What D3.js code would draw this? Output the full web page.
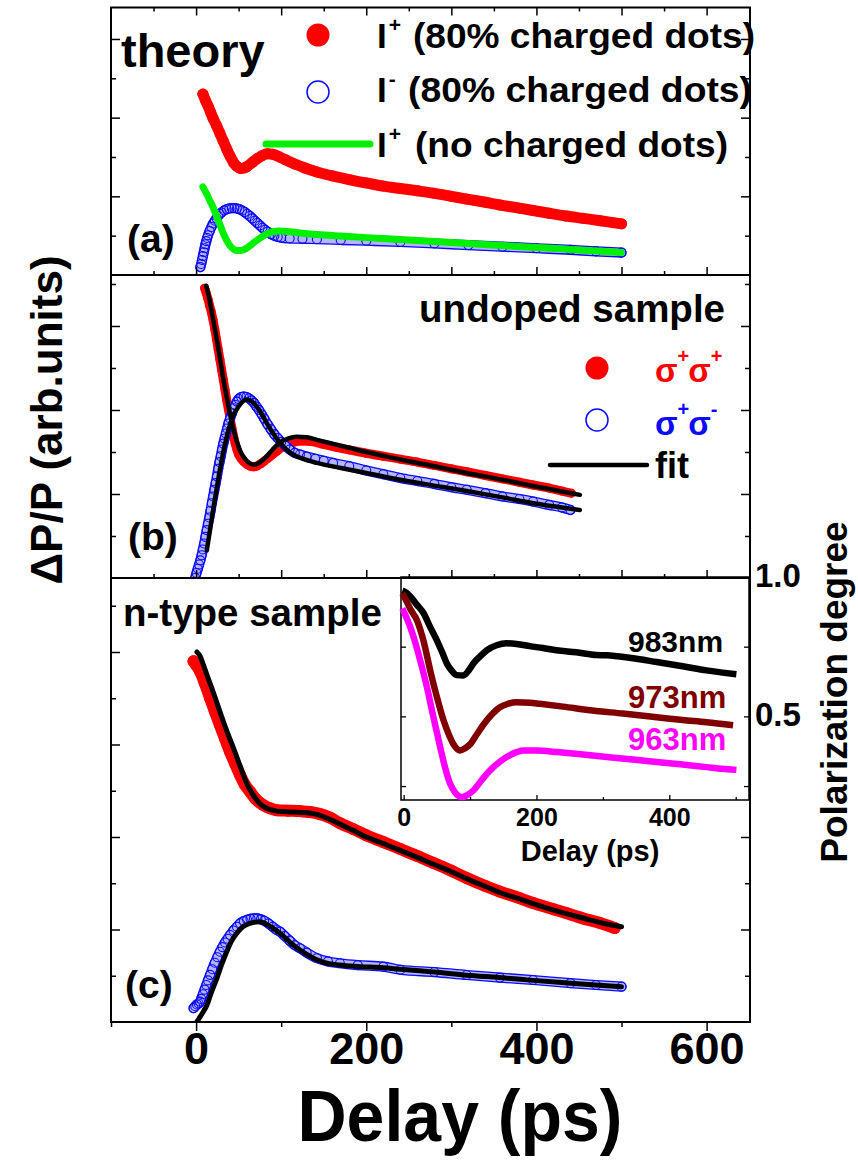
<!DOCTYPE html>
<style type="text/css">
    body { margin: 0; background: #fff; }
    text { font-family: "Liberation Sans", Arial, sans-serif; font-weight: bold; }
</style>
<svg width="858" height="1160"></svg>
<script type="text/javascript" src="https://cdn.jsdelivr.net/npm/d3@7"></script>
<script type="text/javascript">

    // delay axis (ps)
    let delayTicks = [0, 200, 400, 600];
    let delayMinor = [-100, 100, 300, 500];

    // (a) theory, [delay ps, dP/P arb.]
    let theoryPlus80 = [[8,2.30],[11,2.22],[14,2.15],[17,2.07],[20,1.99],[24,1.90],[28,1.80],[32,1.70],[36,1.60],[40,1.51],[44,1.43],[48,1.38],[52,1.355],[56,1.36],[60,1.38],[66,1.43],[72,1.48],[78,1.52],[84,1.54],[90,1.535],[98,1.50],[106,1.46],[116,1.41],[128,1.36],[142,1.31],[160,1.26],[181,1.21],[200,1.17],[220,1.13],[240,1.10],[260,1.07],[279,1.04],[300,1.00],[318,0.965],[340,0.925],[357,0.89],[380,0.85],[396,0.82],[415,0.785],[435,0.75],[455,0.72],[475,0.69],[490,0.665],[500,0.65]];
    let theoryMinus80 = [[5,0.10],[6,0.14],[7,0.19],[8,0.24],[9,0.29],[10,0.34],[11,0.39],[12,0.43],[13,0.47],[14,0.505],[16,0.56],[18,0.61],[20,0.655],[22,0.69],[24,0.72],[26,0.75],[28,0.775],[30,0.795],[33,0.82],[36,0.835],[39,0.845],[42,0.85],[45,0.85],[48,0.845],[51,0.835],[54,0.82],[57,0.80],[60,0.775],[63,0.75],[66,0.72],[69,0.69],[72,0.66],[75,0.63],[78,0.60],[81,0.575],[84,0.55],[88,0.52],[92,0.50],[96,0.485],[100,0.475],[110,0.465],[125,0.46],[142,0.455],[170,0.445],[200,0.435],[240,0.42],[280,0.40],[320,0.38],[360,0.36],[400,0.34],[440,0.32],[470,0.30],[500,0.285]];
    let theoryPlusNone = [[8,1.12],[12,1.04],[16,0.95],[20,0.86],[24,0.75],[28,0.64],[32,0.53],[36,0.44],[40,0.37],[44,0.33],[48,0.31],[52,0.31],[56,0.32],[60,0.345],[66,0.395],[72,0.445],[78,0.49],[84,0.525],[90,0.55],[98,0.56],[110,0.55],[125,0.53],[142,0.515],[170,0.495],[200,0.475],[240,0.45],[280,0.425],[320,0.40],[360,0.375],[400,0.35],[440,0.325],[470,0.305],[500,0.285]];

    // (b) undoped sample
    let undopedPP = [[10,3.45],[12,3.39],[14,3.32],[16,3.24],[18,3.16],[20,3.07],[22,2.96],[24,2.84],[26,2.72],[28,2.60],[30,2.48],[32,2.36],[34,2.24],[36,2.12],[38,2.01],[40,1.90],[42,1.79],[44,1.69],[46,1.60],[48,1.53],[50,1.47],[53,1.42],[56,1.385],[60,1.35],[64,1.33],[68,1.325],[72,1.335],[76,1.36],[80,1.39],[85,1.43],[90,1.47],[95,1.51],[100,1.55],[108,1.59],[116,1.62],[125,1.63],[135,1.625],[150,1.59],[165,1.555],[180,1.525],[200,1.485],[220,1.45],[240,1.415],[260,1.38],[280,1.34],[300,1.30],[318,1.265],[340,1.22],[360,1.18],[380,1.14],[396,1.107],[415,1.07],[430,1.035],[441,1.01]];
    let undopedPM = [[-1,0.0],[0.5,0.06],[2,0.11],[3.5,0.16],[5,0.21],[6.5,0.27],[8,0.34],[9.5,0.41],[11,0.49],[12.5,0.57],[14,0.645],[15.5,0.72],[17,0.80],[18.5,0.89],[20,0.97],[21.5,1.05],[23,1.13],[24.5,1.21],[26,1.30],[27.5,1.38],[29,1.45],[30.5,1.53],[32,1.60],[33.5,1.66],[35,1.72],[36.5,1.78],[38,1.84],[40,1.90],[42,1.96],[44,2.02],[46,2.06],[48,2.10],[50,2.13],[53,2.155],[56,2.16],[59,2.155],[62,2.14],[65,2.115],[68,2.085],[71,2.04],[74,2.0],[77,1.95],[80,1.90],[84,1.83],[88,1.77],[92,1.71],[96,1.665],[100,1.62],[105,1.575],[110,1.53],[116,1.49],[122,1.47],[130,1.445],[140,1.42],[150,1.395],[161,1.37],[180,1.33],[200,1.28],[220,1.235],[240,1.19],[260,1.155],[280,1.12],[300,1.08],[318,1.05],[340,1.01],[360,0.97],[380,0.94],[396,0.91],[415,0.87],[430,0.84],[440,0.81]];
    let undopedFitPP = [[12,3.48],[16,3.30],[20,3.08],[24,2.86],[28,2.62],[32,2.37],[36,2.15],[40,1.95],[44,1.77],[48,1.62],[52,1.51],[56,1.44],[60,1.39],[64,1.36],[68,1.35],[72,1.36],[76,1.385],[80,1.42],[84,1.46],[90,1.53],[98,1.61],[108,1.66],[118,1.68],[130,1.675],[142,1.645],[160,1.60],[180,1.55],[200,1.50],[220,1.455],[240,1.41],[280,1.33],[318,1.25],[360,1.17],[396,1.095],[430,1.03],[451,0.99]];
    let undopedFitPM = [[12.6,0.33],[16,0.55],[20,0.81],[24,1.05],[28,1.29],[32,1.50],[36,1.68],[40,1.83],[44,1.94],[48,2.01],[52,2.07],[56,2.11],[60,2.125],[64,2.11],[68,2.08],[72,2.03],[76,1.97],[80,1.90],[85,1.81],[90,1.73],[98.7,1.61],[106,1.53],[114,1.47],[125,1.42],[142,1.37],[170,1.31],[200,1.25],[240,1.17],[280,1.10],[318,1.036],[360,0.96],[396,0.89],[430,0.84],[451,0.81]];

    // (c) n-type sample
    let ntypePP = [[-3,3.90],[0,3.86],[4.7,3.79],[10,3.67],[16.5,3.50],[22,3.36],[28,3.21],[34,3.065],[40,2.92],[46,2.79],[51.7,2.67],[57,2.57],[63.5,2.49],[70,2.41],[79,2.345],[87,2.31],[94.8,2.29],[108,2.285],[122,2.28],[134,2.27],[145,2.25],[157,2.21],[169,2.15],[185,2.085],[200,2.02],[220,1.945],[240,1.87],[260,1.795],[279,1.719],[300,1.635],[318,1.557],[340,1.47],[357,1.41],[380,1.34],[396,1.286],[420,1.22],[435,1.178],[455,1.12],[474,1.073],[492,1.016]];
    let ntypePM = [[-3,0.15],[-1,0.17],[1,0.19],[3,0.20],[4.7,0.22],[6,0.25],[8,0.30],[10,0.35],[12,0.40],[14,0.45],[16.5,0.51],[19,0.57],[22,0.64],[25,0.70],[28,0.76],[31,0.81],[34,0.86],[37,0.90],[40,0.94],[44,0.99],[48,1.03],[51.7,1.067],[56,1.09],[60,1.105],[64,1.115],[68,1.12],[72,1.12],[76,1.11],[80,1.095],[85,1.065],[90,1.03],[94,1.00],[98.7,0.976],[104,0.93],[110,0.88],[116,0.83],[122,0.797],[130,0.75],[142,0.69],[155,0.655],[169,0.635],[190,0.615],[220,0.598],[240,0.565],[280,0.54],[318,0.508],[357,0.48],[396,0.454],[440,0.42],[470,0.40],[500,0.382]];
    let ntypeFitPP = [[1,4.0],[5,3.95],[8.6,3.86],[14,3.72],[20,3.57],[26,3.41],[32,3.25],[38,3.10],[44,2.96],[50,2.81],[55.6,2.67],[61,2.55],[67,2.455],[75,2.36],[83,2.31],[92,2.285],[102,2.275],[115,2.27],[128,2.265],[142,2.245],[155,2.20],[169,2.14],[185,2.07],[200,2.00],[220,1.93],[240,1.855],[260,1.78],[279,1.705],[300,1.625],[318,1.55],[340,1.465],[357,1.40],[380,1.33],[396,1.28],[420,1.21],[440,1.16],[460,1.11],[480,1.065],[500,1.03]];
    let ntypeFitPM = [[0.8,0.0],[5,0.06],[9,0.12],[12.6,0.18],[18,0.32],[24.3,0.47],[30,0.62],[36,0.76],[42,0.88],[47.8,0.96],[55,1.03],[63.5,1.067],[70,1.08],[75,1.084],[82,1.06],[90.8,1.013],[100,0.95],[107,0.89],[114,0.832],[125,0.76],[138,0.689],[150,0.645],[169,0.616],[190,0.60],[220,0.587],[240,0.57],[280,0.54],[318,0.505],[357,0.48],[396,0.45],[440,0.42],[470,0.40],[500,0.38]];

    // inset: polarization degree
    let insetTicks = [0, 200, 400];
    let polTicks = [1.0, 0.5];
    let pol983 = [[-2,0.95],[3,0.945],[10,0.93],[20,0.90],[30,0.87],[40,0.82],[50,0.773],[58,0.73],[65,0.69],[72,0.665],[80,0.648],[90,0.647],[98,0.665],[105,0.69],[115,0.715],[125,0.737],[140,0.755],[155,0.762],[170,0.76],[190,0.752],[210,0.745],[230,0.737],[260,0.73],[290,0.72],[306,0.719],[340,0.71],[381,0.695],[420,0.68],[456,0.665],[480,0.657],[501,0.651]];
    let pol973 = [[-2,0.941],[5,0.91],[10,0.885],[20,0.845],[30,0.77],[40,0.665],[50,0.57],[60,0.486],[68,0.435],[75,0.40],[85,0.378],[92,0.385],[100,0.40],[110,0.435],[120,0.47],[132,0.505],[145,0.533],[158,0.546],[170,0.551],[190,0.549],[205,0.545],[240,0.535],[281,0.522],[330,0.51],[381,0.497],[420,0.487],[456,0.479],[496,0.468]];
    let pol963 = [[-2,0.887],[5,0.85],[15,0.785],[25,0.70],[35,0.605],[45,0.495],[55,0.39],[62,0.32],[70,0.258],[78,0.225],[88,0.21],[96,0.218],[105,0.234],[117,0.27],[130,0.306],[142,0.332],[155,0.354],[168,0.37],[180,0.378],[200,0.378],[231,0.372],[270,0.363],[306,0.354],[345,0.345],[381,0.336],[420,0.327],[456,0.318],[480,0.312],[501,0.308]];

    var svg = d3.select("svg");

    var left = 111, right = 750;
    var x = d3.scaleLinear().domain([-100, 651]).range([left, right]);

    var panels = [
        { name: "a", y: d3.scaleLinear().domain([0, 3.4]).range([275, 7.5]), major: [1, 2, 3], minor: [0.5, 1.5, 2.5] },
        { name: "b", y: d3.scaleLinear().domain([0, 3.607]).range([578, 275]), major: [1, 2, 3], minor: [0.5, 1.5, 2.5, 3.5] },
        { name: "c", y: d3.scaleLinear().domain([0, 4.8]).range([1022, 578]), major: [1, 2, 3, 4], minor: [0.5, 1.5, 2.5, 3.5, 4.5] }
    ];
    var ya = panels[0].y, yb = panels[1].y, yc = panels[2].y;

    var defs = svg.append("defs");
    panels.forEach(function(p) {
        var r = p.y.range();
        defs.append("clipPath").attr("id", "clip-" + p.name)
            .append("rect").attr("x", left).attr("y", r[1]).attr("width", right - left).attr("height", r[0] - r[1]);
    });

    function lineFor(y, sx) {
        return d3.line().x(function(d) { return (sx || x)(d[0]); }).y(function(d) { return y(d[1]); }).curve(d3.curveMonotoneX);
    }

    // filled markers: thick band + dots
    function filledSeries(g, data, y, r, col) {
        g.append("path").datum(data).attr("d", lineFor(y))
            .attr("fill", "none").attr("stroke", col).attr("stroke-width", 2 * r)
            .attr("stroke-linecap", "round").attr("stroke-linejoin", "round");
        g.selectAll(null).data(data).enter().append("circle")
            .attr("cx", function(d) { return x(d[0]); })
            .attr("cy", function(d) { return y(d[1]); })
            .attr("r", r).attr("fill", col);
    }

    // open markers: ring band + rings
    function openSeries(g, data, y, r, col) {
        g.append("path").datum(data).attr("d", lineFor(y))
            .attr("fill", "none").attr("stroke", col).attr("stroke-width", 2 * r + 1.2)
            .attr("stroke-linecap", "round").attr("stroke-linejoin", "round");
        g.append("path").datum(data).attr("d", lineFor(y))
            .attr("fill", "none").attr("stroke", "#b4b4ff").attr("stroke-width", 2 * r - 1.4)
            .attr("stroke-linecap", "round").attr("stroke-linejoin", "round");
        g.selectAll(null).data(data).enter().append("circle")
            .attr("cx", function(d) { return x(d[0]); })
            .attr("cy", function(d) { return y(d[1]); })
            .attr("r", r).attr("fill", "none").attr("stroke", col).attr("stroke-width", 1.1);
    }

    function lineSeries(g, data, y, w, col) {
        g.append("path").datum(data).attr("d", lineFor(y))
            .attr("fill", "none").attr("stroke", col).attr("stroke-width", w)
            .attr("stroke-linecap", "round").attr("stroke-linejoin", "round");
    }

    var red = "#ff0000", blue = "#0a0aff", green = "#00f000";

    // panel (a)
    var ga = svg.append("g").attr("clip-path", "url(#clip-a)");
    filledSeries(ga, theoryPlus80, ya, 5.5, red);
    openSeries(ga, theoryMinus80, ya, 4.5, blue);
    lineSeries(ga, theoryPlusNone, ya, 7, green);

    // panel (b)
    var gb = svg.append("g").attr("clip-path", "url(#clip-b)");
    filledSeries(gb, undopedPP, yb, 4.5, red);
    openSeries(gb, undopedPM, yb, 4.5, blue);
    lineSeries(gb, undopedFitPP, yb, 4.5, "#000");
    lineSeries(gb, undopedFitPM, yb, 4.5, "#000");

    // panel (c)
    var gc = svg.append("g").attr("clip-path", "url(#clip-c)");
    filledSeries(gc, ntypePP, yc, 6, red);
    openSeries(gc, ntypePM, yc, 4.5, blue);
    lineSeries(gc, ntypeFitPP, yc, 5, "#000");
    lineSeries(gc, ntypeFitPM, yc, 5, "#000");

    // ticks on each panel
    panels.forEach(function(p) {
        var r = p.y.range();
        var g = svg.append("g");
        g.append("g").attr("transform", "translate(" + left + ",0)")
            .call(d3.axisLeft(p.y).tickValues(p.major).tickSize(-9).tickFormat(""));
        g.append("g").attr("transform", "translate(" + left + ",0)")
            .call(d3.axisLeft(p.y).tickValues(p.minor).tickSize(-5).tickFormat(""));
        var rightMajor = p.major, rightMinor = p.minor;
        if (p.name == "c") {
            // inset sits over the upper right part
            rightMajor = p.major.filter(function(v) { return p.y(v) > 805; });
            rightMinor = p.minor.filter(function(v) { return p.y(v) > 805; });
        }
        g.append("g").attr("transform", "translate(" + right + ",0)")
            .call(d3.axisRight(p.y).tickValues(rightMajor).tickSize(-9).tickFormat(""));
        g.append("g").attr("transform", "translate(" + right + ",0)")
            .call(d3.axisRight(p.y).tickValues(rightMinor).tickSize(-5).tickFormat(""));
        if (p.name != "c") {
            g.append("g").attr("transform", "translate(0," + r[0] + ")")
                .call(d3.axisBottom(x).tickValues([0, 100, 200, 300, 400, 500, 600]).tickSize(-8).tickFormat(""));
            g.append("g").attr("transform", "translate(0," + r[0] + ")")
                .call(d3.axisBottom(x).tickValues([-50, 50, 150, 250, 350, 450, 550]).tickSize(-4).tickFormat(""));
        }
        if (p.name == "a") {
            g.append("g").attr("transform", "translate(0," + r[1] + ")")
                .call(d3.axisTop(x).tickValues([0, 100, 200, 300, 400, 500, 600]).tickSize(-8).tickFormat(""));
            g.append("g").attr("transform", "translate(0," + r[1] + ")")
                .call(d3.axisTop(x).tickValues([-50, 50, 150, 250, 350, 450, 550]).tickSize(-4).tickFormat(""));
        }
        g.selectAll(".domain").remove();
        g.selectAll("line").attr("stroke", "#000").attr("stroke-width", 1.5);
    });

    // main delay axis
    var xAxis = svg.append("g").attr("transform", "translate(0,1022)")
        .call(d3.axisBottom(x).tickValues(delayTicks).tickSize(9).tickPadding(4).tickFormat(d3.format("d")));
    svg.append("g").attr("transform", "translate(0,1022)")
        .call(d3.axisBottom(x).tickValues(delayMinor).tickSize(5).tickFormat(""))
        .selectAll(".domain").remove();
    xAxis.select(".domain").remove();
    svg.selectAll(".tick line").attr("stroke", "#000").attr("stroke-width", 1.5);
    xAxis.selectAll("text").attr("font-size", 45).attr("font-family", null).attr("fill", "#000")
        .attr("dy", null).attr("y", 42);

    // inset
    var xi = d3.scaleLinear().domain([-4, 520]).range([401, 749]);
    var yi = d3.scaleLinear().domain([0.2, 1.0]).range([800, 577]);
    var gi = svg.append("g");
    gi.append("rect").attr("x", 401).attr("y", 577).attr("width", 348).attr("height", 223)
        .attr("fill", "#fff").attr("stroke", "#000").attr("stroke-width", 1.5);
    var insetLines = [[pol983, "#000"], [pol973, "#800000"], [pol963, "#ff00ff"]];
    insetLines.forEach(function(s) {
        gi.append("path").datum(s[0]).attr("d", lineFor(yi, xi))
            .attr("fill", "none").attr("stroke", s[1]).attr("stroke-width", 6.5)
            .attr("stroke-linejoin", "round");
    });
    var ib = gi.append("g").attr("transform", "translate(0,800)")
        .call(d3.axisBottom(xi).tickValues(insetTicks).tickSize(-5).tickPadding(8).tickFormat(d3.format("d")));
    gi.append("g").attr("transform", "translate(0,800)")
        .call(d3.axisBottom(xi).tickValues([100, 300, 500]).tickSize(-3).tickFormat(""));
    gi.append("g").attr("transform", "translate(401,0)")
        .call(d3.axisLeft(yi).tickValues([0.25, 0.5, 0.75]).tickSize(-5).tickFormat(""));
    gi.append("g").attr("transform", "translate(749,0)")
        .call(d3.axisRight(yi).tickValues([0.25, 0.5, 0.75]).tickSize(-5).tickFormat(""));
    gi.selectAll(".domain").remove();
    gi.selectAll(".tick line").attr("stroke", "#000").attr("stroke-width", 1.3);
    ib.selectAll("text").attr("font-size", 25).attr("font-family", null).attr("fill", "#000");

    svg.selectAll(null).data(polTicks).enter().append("text")
        .attr("x", 755).attr("y", function(d) { return yi(d) + 10; })
        .attr("font-size", 33).text(function(d) { return d3.format(".1f")(d); });

    // frame
    svg.append("rect").attr("x", left).attr("y", 7.5).attr("width", right - left).attr("height", 1022 - 7.5)
        .attr("fill", "none").attr("stroke", "#000").attr("stroke-width", 2);
    svg.append("line").attr("x1", left).attr("x2", right).attr("y1", 275).attr("y2", 275).attr("stroke", "#000").attr("stroke-width", 2);
    svg.append("line").attr("x1", left).attr("x2", right).attr("y1", 578).attr("y2", 578).attr("stroke", "#000").attr("stroke-width", 2);

    // labels
    function label(tx, ty, s, size, col, anchor, weight) {
        return svg.append("text").attr("x", tx).attr("y", ty).attr("font-size", size)
            .attr("fill", col || "#000").attr("text-anchor", anchor || "start")
            .attr("font-weight", weight || "bold").text(s);
    }
    label(121, 67, "theory", 47);
    label(127, 252, "(a)", 39);
    label(725, 322, "undoped sample", 38.5, "#000", "end");
    label(128, 550, "(b)", 39);
    label(123, 626, "n-type sample", 38.5);
    label(125, 998, "(c)", 39);

    // legend (a)
    svg.append("circle").attr("cx", 318).attr("cy", 35).attr("r", 11.5).attr("fill", red);
    svg.append("circle").attr("cx", 318).attr("cy", 92).attr("r", 11).attr("fill", "none").attr("stroke", blue).attr("stroke-width", 1.5);
    svg.append("line").attr("x1", 266).attr("x2", 370).attr("y1", 144).attr("y2", 144).attr("stroke", green).attr("stroke-width", 7).attr("stroke-linecap", "round");
    var legA = [["+", "(80% charged dots)", 48, 413, 342], ["-", "(80% charged dots)", 102, 408, 344], ["+", "(no charged dots)", 157, 415, 313]];
    legA.forEach(function(l) {
        var t = label(377, l[2], "I", 35);
        t.append("tspan").attr("font-size", 21).attr("dy", -16).attr("dx", 2).text(l[0]);
        label(l[3], l[2], l[1], 35).attr("textLength", l[4]).attr("lengthAdjust", "spacingAndGlyphs");
    });

    // legend (b)
    svg.append("circle").attr("cx", 597).attr("cy", 368).attr("r", 11.5).attr("fill", red);
    svg.append("circle").attr("cx", 597).attr("cy", 420).attr("r", 11).attr("fill", "none").attr("stroke", blue).attr("stroke-width", 1.5);
    svg.append("line").attr("x1", 550).attr("x2", 647).attr("y1", 465).attr("y2", 465).attr("stroke", "#000").attr("stroke-width", 4.5).attr("stroke-linecap", "round");
    function sigmaPair(ty, signs, col, weight) {
        var t = label(655, ty, "σ", 33, col, "start", weight);
        t.append("tspan").attr("font-size", 20).attr("font-weight", "bold").attr("dy", -19).text(signs[0]);
        t.append("tspan").attr("dy", 19).attr("dx", -1).text("σ");
        t.append("tspan").attr("font-size", 20).attr("font-weight", "bold").attr("dy", -19).text(signs[1]);
    }
    sigmaPair(382, ["+", "+"], red, "normal");
    sigmaPair(435, ["+", "-"], blue, "bold");
    label(655, 478, "fit", 36);

    // inset labels
    label(628, 652, "983nm", 30, "#000");
    label(628, 708, "973nm", 31, "#800000", "start", "normal");
    label(628, 750, "963nm", 31, "#ff00ff", "start", "normal");
    label(590, 861, "Delay (ps)", 29, "#000", "middle");

    // axis titles
    label(0, 0, "ΔP/P (arb.units)", 44, "#000", "middle").attr("transform", "translate(62,420) rotate(-90)");
    label(0, 0, "Polarization degree", 37, "#000", "middle").attr("transform", "translate(847,692) rotate(-90)");
    label(460, 1141, "Delay (ps)", 72, "#000", "middle").attr("textLength", 325).attr("lengthAdjust", "spacingAndGlyphs");

</script>
